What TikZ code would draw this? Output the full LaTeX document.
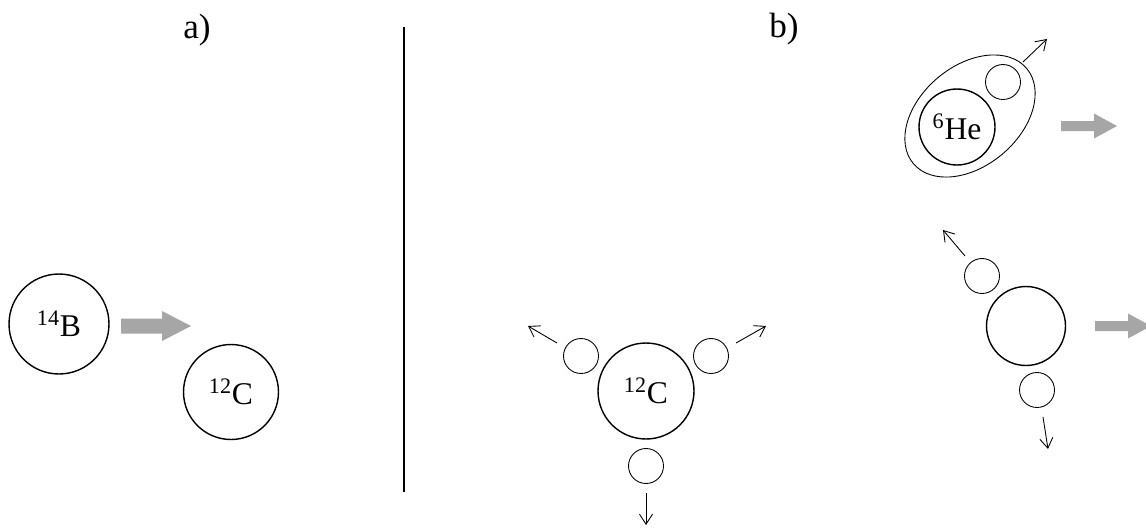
\documentclass[tikz,border=0pt]{standalone}
\usepackage{fontspec}
\setmainfont{Liberation Serif}
\usetikzlibrary{arrows.meta, positioning, shapes.geometric}

\begin{document}
\begin{tikzpicture}[x=0.02cm, y=-0.02cm,
    nucleus/.style={circle, draw, line width=0.8pt, inner sep=0pt,
                    font=\fontsize{18}{21}\selectfont},
    nucleon/.style={circle, draw, line width=0.5pt, minimum size=0.7cm, inner sep=0pt},
    emit/.style={-{Straight Barb[length=2mm, width=2.6mm]}, line width=0.5pt},
    push/.style={fill=black!35},
    panel/.style={font=\fontsize{20}{24}\selectfont},
]
    \clip (0,0) rectangle (1146,528);

    \node[panel] (pa) at (197,30) {a)};
    \node[panel] (pb) at (784,29) {b)};
    \draw[line width=0.7pt] (404,27) -- (404,492);

    % a) projectile and target
    \node[nucleus, minimum size=2cm] (boron) at (59,324) {\textsuperscript{14}B};
    \node[nucleus, minimum size=1.9cm] (carbon) at (231,392) {\textsuperscript{12}C};
    \fill[push] (121,318.5) -- (162,318.5) -- (162,311) -- (191,326)
        -- (162,341) -- (162,333.5) -- (121,333.5) -- cycle;

    % b) carbon breaking into three alphas
    \node[nucleus, minimum size=1.92cm] (core) at (646,391) {\textsuperscript{12}C};
    \node[nucleon] (al) at (581,356) {};
    \node[nucleon] (ar) at (711,356) {};
    \node[nucleon] (ab) at (646,466) {};
    \draw[emit] ([shift={(-24,-13)}]al.center) -- ++(-29,-17);
    \draw[emit] ([shift={(25,-13)}]ar.center) -- ++(30,-17);
    \draw[emit] ([shift={(0,27)}]ab.center) -- ++(0,32);

    % b) 6He cluster
    \node[ellipse, draw, line width=0.5pt, minimum width=2.96cm, minimum height=2cm,
          rotate=40] (shell) at (970,116) {};
    \node[nucleus, minimum size=1.52cm] (helium) at (957,127) {\textsuperscript{6}He};
    \node[nucleon] (hn) at (1003,82) {};
    \draw[emit] ([shift={(20,-20)}]hn.center) -- ++(24,-23);
    \fill[push] (1061,121) -- (1094,121) -- (1094,113.5) -- (1117,126)
        -- (1094,138.5) -- (1094,131) -- (1061,131) -- cycle;

    % b) residue with two nucleons
    \node[nucleus, minimum size=1.58cm] (rest) at (1026,326) {};
    \node[nucleon] (rn1) at (982,276) {};
    \node[nucleon] (rn2) at (1037,390) {};
    \draw[emit] ([shift={(-17,-20)}]rn1.center) -- ++(-22,-26);
    \draw[emit] ([shift={(6,27)}]rn2.center) -- ++(5,32);
    \fill[push] (1095,321) -- (1128,321) -- (1128,313.5) -- (1151,326)
        -- (1128,338.5) -- (1128,331) -- (1095,331) -- cycle;
\end{tikzpicture}
\end{document}
